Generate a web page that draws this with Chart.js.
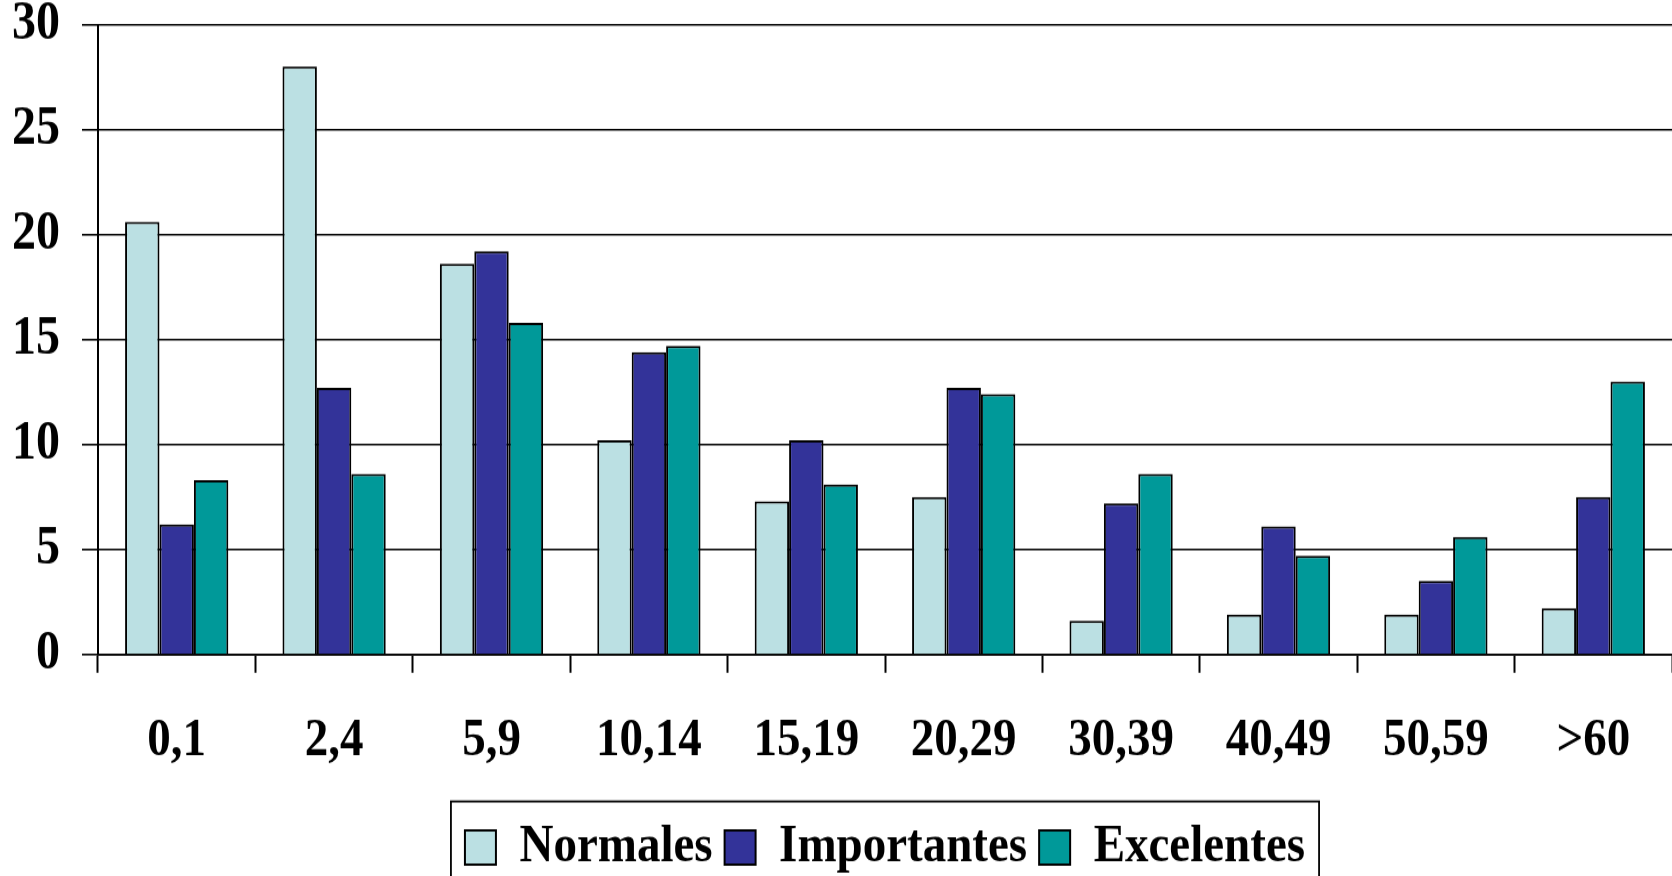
<!DOCTYPE html>
<html>
<head>
<meta charset="utf-8">
<script src="https://cdn.jsdelivr.net/npm/chart.js@4/dist/chart.umd.min.js"></script>
<style>
  html, body { margin: 0; padding: 0; background: #fff; overflow: hidden; }
</style>
</head>
<body>
<!-- drawn on a 1672x768 bitmap, shown 876px tall (tall, narrow type) -->
<canvas id="c" width="1672" height="768" style="display:block;width:1672px;height:876px"></canvas>
<script>
const categories = ['0,1', '2,4', '5,9', '10,14', '15,19', '20,29', '30,39', '40,49', '50,59', '>60'];
const normales    = [20.6, 28.0, 18.6, 10.2, 7.3, 7.5, 1.6, 1.9, 1.9, 2.2];
const importantes = [6.2, 12.7, 19.2, 14.4, 10.2, 12.7, 7.2, 6.1, 3.5, 7.5];
const excelentes  = [8.3, 8.6, 15.8, 14.7, 8.1, 12.4, 8.6, 4.7, 5.6, 13.0];
const yTicks = [0, 5, 10, 15, 20, 25, 30];

const FAMILY = "'Liberation Serif', 'Times New Roman', serif";
const LABEL_FONT = { family: FAMILY, size: 47, weight: 'bold', lineHeight: 1 };
const Y_FONT = { family: FAMILY, size: 48, weight: 'bold', lineHeight: 1 };

// frame drawn around the legend entries
const legendFrame = {
  id: 'legendFrame',
  afterDraw(chart) {
    const boxes = chart.legend && chart.legend.legendHitBoxes;
    if (!boxes || !boxes.length) return;
    const first = boxes[0], last = boxes[boxes.length - 1];
    const left = first.left - 14;
    const right = last.left + last.width + 14;
    const top = first.top - 17;
    const ctx = chart.ctx;
    ctx.save();
    ctx.strokeStyle = '#000';
    ctx.lineWidth = 1.8;
    ctx.strokeRect(left, top, right - left, chart.height - top + 20);
    ctx.restore();
  }
};

new Chart(document.getElementById('c'), {
  type: 'bar',
  data: {
    labels: categories,
    datasets: [
      { label: 'Normales',    data: normales,    backgroundColor: '#BBE0E3', borderColor: '#000', borderWidth: 2 },
      { label: 'Importantes', data: importantes, backgroundColor: '#333399', borderColor: '#000', borderWidth: 2 },
      { label: 'Excelentes',  data: excelentes,  backgroundColor: '#009999', borderColor: '#000', borderWidth: 2 }
    ]
  },
  options: {
    responsive: false,
    devicePixelRatio: 1,
    animation: false,
    events: [],
    categoryPercentage: 0.656,
    barPercentage: 1.0,
    layout: { padding: { top: 21.5, bottom: -8.6, left: 0, right: 0 } },
    plugins: {
      tooltip: { enabled: false },
      legend: {
        position: 'bottom',
        fullSize: false,
        labels: {
          color: '#000',
          font: LABEL_FONT,
          boxWidth: 31,
          boxHeight: 30,
          padding: 12
        }
      }
    },
    scales: {
      x: {
        grid: {
          offset: true,
          drawOnChartArea: false,
          drawTicks: true,
          tickLength: 16,
          tickWidth: 2,
          tickColor: '#000'
        },
        border: { display: true, color: '#000', width: 1.8 },
        ticks: { color: '#000', font: LABEL_FONT, padding: 37, maxRotation: 0, autoSkip: false },
        afterFit(scale) {
          scale.height = 133.8;
          scale.paddingLeft = 0;
          scale.paddingRight = 0;
        }
      },
      y: {
        min: 0,
        max: 30,
        afterBuildTicks(scale) {
          scale.ticks = yTicks.map(v => ({ value: v }));
        },
        grid: {
          color: '#000',
          lineWidth: 1.6,
          drawTicks: true,
          tickLength: 16,
          tickColor: '#000',
          tickWidth: 1.6
        },
        border: { display: true, color: '#000', width: 2 },
        ticks: { color: '#000', font: Y_FONT, padding: 22 },
        afterFit(scale) {
          scale.width = 98;
          scale.paddingTop = 0;
          scale.paddingBottom = 0;
        }
      }
    }
  },
  plugins: [legendFrame]
});
</script>
</body>
</html>
